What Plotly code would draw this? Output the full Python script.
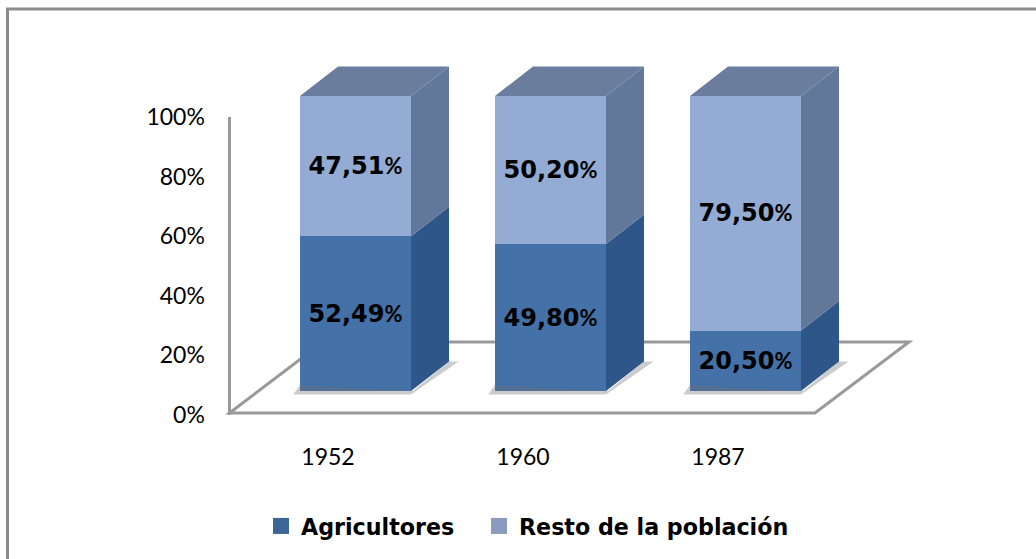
import plotly.graph_objects as go

years = ["1952", "1960", "1987"]
agricultores = [52.49, 49.80, 20.50]
resto = [47.51, 50.20, 79.50]
y_ticks = [0, 20, 40, 60, 80, 100]
y_tick_labels = ["0%", "20%", "40%", "60%", "80%", "100%"]

W, H = 1036, 559
AX_L, AX_R, AX_T, AX_B = 230.5, 815.5, 117, 414.5
FRONT_X0, STEP = 355.5, 195.0
FRONT_Y0, PX_PER_PCT = 391.0, 2.95
HALF = 55.5 / STEP
DX, DY = 38 / STEP, 29.5 / PX_PER_PCT

C_DARK, C_LIGHT = "#4472A8", "#94ABD3"
C_DARK_SIDE, C_LIGHT_SIDE, C_TOP = "#2F5688", "#62789A", "#6A7D9E"
C_SWATCH_D, C_SWATCH_L = "#3D6596", "#8A9CBE"
GRID = "#999999"


def label(v):
    return f"{v:.2f}".replace(".", ",") + '<span style="font-family:Lato;font-size:22px">%</span>'


def poly(xs, ys, color, width=0):
    return go.Scatter(x=xs, y=ys, mode="lines", fill="toself", fillcolor=color,
                      line=dict(width=width, color=color), hoverinfo="skip",
                      showlegend=False, xaxis="x2", yaxis="y2")


fig = go.Figure()
# Invisible trace activates the primary axes (ticks and axis lines)
fig.add_trace(go.Scatter(x=years, y=[0, 0, 0], mode="none", showlegend=False, hoverinfo="skip"))

# soft base shadows
for i in range(len(years)):
    r = i + HALF
    fig.add_trace(poly([i - HALF, i - HALF - 0.035, r, r + DX + 0.05, r + DX, r + 0.01],
                       [2, -1.2, -1.2, DY, DY, 0], "rgba(110,110,110,0.35)"))

xs_d, ys_d, xs_l, ys_l, xs_t, ys_t = [], [], [], [], [], []
for i, (a, b) in enumerate(zip(agricultores, resto)):
    r = i + HALF
    top = a + b
    xs_d += [r, r, r + DX, r + DX, None]
    ys_d += [0, a, a + DY, DY, None]
    xs_l += [r, r, r + DX, r + DX, None]
    ys_l += [a, top, top + DY, a + DY, None]
    xs_t += [i - HALF, r, r + DX, i - HALF + DX, None]
    ys_t += [top, top, top + DY, top + DY, None]
fig.add_trace(poly(xs_d, ys_d, C_DARK_SIDE))
fig.add_trace(poly(xs_l, ys_l, C_LIGHT_SIDE))
fig.add_trace(poly(xs_t, ys_t, C_TOP))

txtfont = dict(family="DejaVu Sans", size=24, color="black", weight="bold")
series = [("Agricultores", agricultores, C_DARK, C_SWATCH_D, "legend"),
          ("Resto de la población", resto, C_LIGHT, C_SWATCH_L, "legend2")]
for name, vals, col, sw, leg in series:
    fig.add_trace(go.Bar(x=list(range(len(years))), y=vals, name=name, width=2 * HALF,
                         marker=dict(color=col, line=dict(width=0)), showlegend=False,
                         text=[label(v) for v in vals], textposition="inside",
                         insidetextanchor="middle", textangle=0, textfont=txtfont,
                         constraintext="none", xaxis="x2", yaxis="y2"))
    # Legend key: square swatch of the same series
    fig.add_trace(go.Scatter(x=[None], y=[None], name=name, mode="markers", legend=leg,
                             marker=dict(symbol="square", size=16, color=sw),
                             xaxis="x2", yaxis="y2"))

# Floor of the 3-D box, in primary-axis domain units
def dom_x(px):
    return (px - AX_L) / (AX_R - AX_L)


def dom_y(px):
    return (AX_B - px) / (AX_B - AX_T)


fig.add_shape(type="path", xref="x domain", yref="y domain", layer="below",
              path=(f"M {dom_x(229.5)} {dom_y(413)} L {dom_x(323)} {dom_y(342)} "
                    f"L {dom_x(909)} {dom_y(342)} L {dom_x(815)} {dom_y(413)} Z"),
              line=dict(color=GRID, width=3), fillcolor="white")
# outer frame (only top and left edges fall inside the picture)
fig.add_shape(type="rect", xref="paper", yref="paper", layer="below",
              x0=7.5 / W, x1=1.02, y0=-0.02, y1=1 - 9 / H,
              line=dict(color="#8C8C8C", width=3))

tickfont = dict(family="Lato", size=23, color="black")
legfont = dict(family="DejaVu Sans", size=22.2, color="black", weight="bold")
fig.update_layout(
    width=W, height=H, margin=dict(l=0, r=0, t=0, b=0, autoexpand=False),
    paper_bgcolor="white", plot_bgcolor="rgba(0,0,0,0)", barmode="stack",
    xaxis=dict(domain=[AX_L / W, AX_R / W], range=[-0.5, 2.5], type="category",
               categoryorder="array", categoryarray=years, anchor="y",
               showgrid=False, zeroline=False, showline=False,
               ticks="outside", ticklen=22, tickcolor="rgba(0,0,0,0)", tickfont=tickfont),
    yaxis=dict(domain=[1 - AX_B / H, 1 - AX_T / H], range=[0, 100], anchor="x",
               tickvals=y_ticks, ticktext=y_tick_labels, showgrid=False, zeroline=False,
               showline=True, linecolor=GRID, linewidth=3,
               ticks="outside", ticklen=18, tickcolor="rgba(0,0,0,0)", tickfont=tickfont),
    xaxis2=dict(domain=[0, 1], anchor="y2", range=[-FRONT_X0 / STEP, (W - FRONT_X0) / STEP],
                visible=False),
    yaxis2=dict(domain=[0, 1], anchor="x2",
                range=[(FRONT_Y0 - H) / PX_PER_PCT, FRONT_Y0 / PX_PER_PCT], visible=False),
    legend=dict(orientation="h", x=261 / W, y=1 - 526 / H, xanchor="left", yanchor="middle",
                font=legfont, bgcolor="rgba(0,0,0,0)"),
    legend2=dict(orientation="h", x=479 / W, y=1 - 526 / H, xanchor="left", yanchor="middle",
                 font=legfont, bgcolor="rgba(0,0,0,0)"),
)
fig.write_html("out.html", post_script="document.body.style.margin='0';",
               config={"displayModeBar": False})
